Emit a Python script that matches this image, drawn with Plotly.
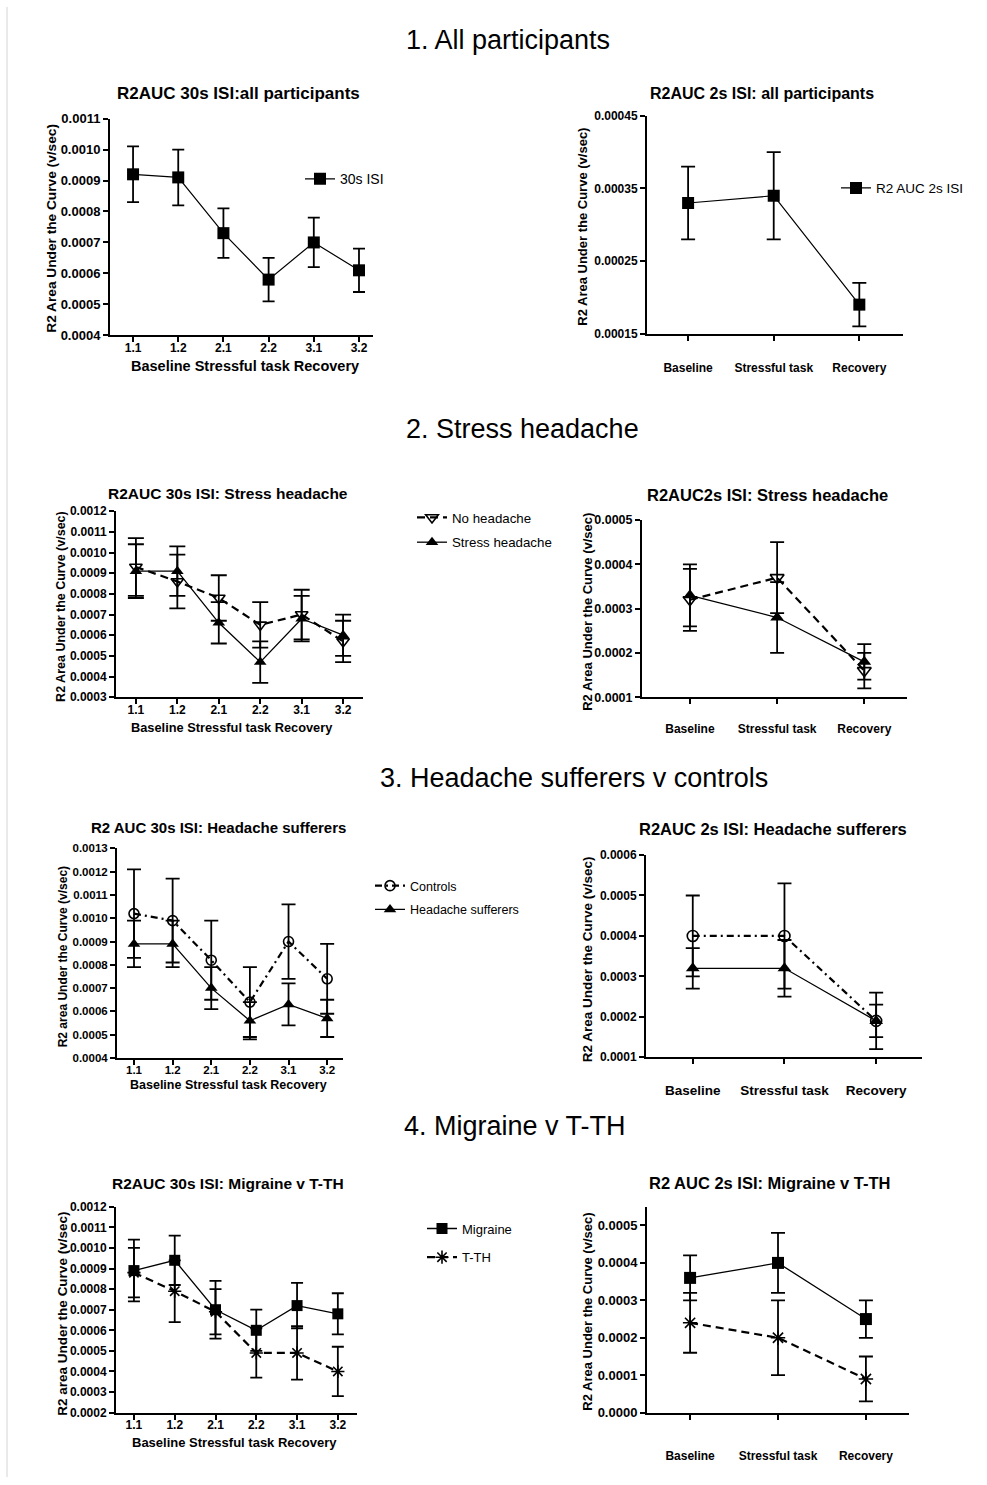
import plotly.graph_objects as go

W, H = 987, 1485
FONT = "Liberation Sans, Arial, sans-serif"

# ---- categories ----
periods = ["1.1", "1.2", "2.1", "2.2", "3.1", "3.2"]
phases = ["Baseline", "Stressful task", "Recovery"]

# ---- 1. All participants ----
all_30s = [0.00092, 0.00091, 0.00073, 0.00058, 0.00070, 0.00061]
all_30s_err = [0.00009, 0.00009, 0.00008, 0.00007, 0.00008, 0.00007]
all_2s = [0.00033, 0.00034, 0.00019]
all_2s_err = [0.00005, 0.00006, 0.00003]

# ---- 2. Stress headache ----
nohead_30s = [0.00093, 0.00086, 0.00078, 0.00065, 0.00070, 0.00057]
nohead_30s_err = [0.00014, 0.00013, 0.00011, 0.00011, 0.00012, 0.00010]
stress_30s = [0.00091, 0.00091, 0.00066, 0.00047, 0.00068, 0.00060]
stress_30s_err = [0.00013, 0.00012, 0.00010, 0.00010, 0.00011, 0.00010]
nohead_2s = [0.00032, 0.00037, 0.00016]
nohead_2s_err = [0.00007, 0.00008, 0.00004]
stress_2s = [0.00033, 0.00028, 0.00018]
stress_2s_err = [0.00007, 0.00008, 0.00004]

# ---- 3. Headache sufferers v controls ----
controls_30s = [0.00102, 0.00099, 0.00082, 0.00064, 0.00090, 0.00074]
controls_30s_err = [0.00019, 0.00018, 0.00017, 0.00015, 0.00016, 0.00015]
sufferers_30s = [0.00089, 0.00089, 0.00070, 0.00056, 0.00063, 0.00057]
sufferers_30s_err = [0.00010, 0.00010, 0.00009, 0.00008, 0.00009, 0.00008]
controls_2s = [0.00040, 0.00040, 0.00019]
controls_2s_err = [0.00010, 0.00013, 0.00007]
sufferers_2s = [0.00032, 0.00032, 0.00019]
sufferers_2s_err = [0.00005, 0.00007, 0.00004]

# ---- 4. Migraine v T-TH ----
migraine_30s = [0.00089, 0.00094, 0.00070, 0.00060, 0.00072, 0.00068]
migraine_30s_err = [0.00015, 0.00012, 0.00014, 0.00010, 0.00011, 0.00010]
tth_30s = [0.00088, 0.00079, 0.00069, 0.00049, 0.00049, 0.00040]
tth_30s_err = [0.00012, 0.00015, 0.00011, 0.00012, 0.00013, 0.00012]
migraine_2s = [0.00036, 0.00040, 0.00025]
migraine_2s_err = [0.00006, 0.00008, 0.00005]
tth_2s = [0.00024, 0.00020, 0.00009]
tth_2s_err = [0.00008, 0.00010, 0.00006]


def fx(p):
    return p / W


def fy(p):
    return 1 - p / H


# negative label standoff pulls the period labels closer to the axis
try:
    go.layout.XAxis(ticklabelstandoff=-5)
    CLOSE = -5
except ValueError:
    CLOSE = 0

# panel geometry in pixels: (left, right, top, bottom)
panels = [
    dict(box=(110, 373, 112.7, 331.7), xr=[-0.51, 5.31], yr=[0.0004, 0.0011], tick0=0.0004,
         fmt=".4f", cats=periods, lab_off=CLOSE, xfs=12, yfs=13),
    dict(box=(647, 903, 110, 330), xr=[-0.48, 2.51], yr=[0.00015, 0.00045], tick0=0.00015,
         fmt=".5f", cats=phases, lab_off=17, xfs=12, yfs=12),
    dict(box=(116, 363, 509.3, 697.3), xr=[-0.48, 5.48], yr=[0.0003, 0.0012], tick0=0.0003,
         fmt=".4f", cats=periods, lab_off=CLOSE, xfs=12, yfs=12),
    dict(box=(642, 907, 518.3, 697.3), xr=[-0.55, 2.49], yr=[0.0001, 0.0005], tick0=0.0001,
         fmt=".4f", cats=phases, lab_off=14, xfs=12, yfs=12.5),
    dict(box=(117, 343, 850, 1061.7), xr=[-0.44, 5.41], yr=[0.0004, 0.0013], tick0=0.0004,
         fmt=".4f", cats=periods, lab_off=CLOSE, xfs=11.5, yfs=11.5),
    dict(box=(646, 922, 856.7, 1061), xr=[-0.51, 2.5], yr=[0.0001, 0.0006], tick0=0.0001,
         fmt=".4f", cats=phases, lab_off=15, xfs=13.5, yfs=12),
    dict(box=(116, 357, 1212, 1420), xr=[-0.44, 5.47], yr=[0.0002, 0.0012], tick0=0.0002,
         fmt=".4f", cats=periods, lab_off=CLOSE, xfs=12, yfs=12),
    dict(box=(647, 909, 1212, 1420), xr=[-0.49, 2.49], yr=[0.0, 0.00055], tick0=0.0,
         fmt=".4f", cats=phases, lab_off=26, xfs=12, yfs=13),
]

axis_common = dict(
    showline=True, linecolor="black", linewidth=2,
    ticks="outside", ticklen=5, tickwidth=2, tickcolor="black",
    showgrid=False, zeroline=False, fixedrange=True,
)


def tfont(size):
    return dict(family=FONT, size=size, color="black", weight="bold")


layout_axes = {}
for i, p in enumerate(panels, start=1):
    l, r, t, b = p["box"]
    sfx = "" if i == 1 else str(i)
    xa = dict(axis_common, domain=[fx(l), fx(r)], anchor="y" + sfx, type="category",
              range=p["xr"], categoryorder="array", categoryarray=p["cats"],
              tickfont=tfont(p["xfs"]), ticklabelstandoff=p["lab_off"])
    ya = dict(axis_common, domain=[fy(b), fy(t)], anchor="x" + sfx, range=p["yr"],
              tickmode="linear", tick0=p["tick0"], dtick=0.0001, tickformat=p["fmt"],
              tickfont=tfont(p["yfs"]))
    layout_axes["xaxis" + sfx] = xa
    layout_axes["yaxis" + sfx] = ya


def add_series(panel, x, y, err, name, symbol, msize, dash, lwidth, cap, legend=None):
    sfx = "" if panel == 1 else str(panel)
    open_sym = symbol.endswith("-open")
    fig.add_trace(go.Scatter(
        x=x, y=y, name=name,
        mode="lines+markers",
        xaxis="x" + sfx, yaxis="y" + sfx,
        line=dict(color="black", width=lwidth, dash=dash),
        marker=dict(symbol=symbol, size=msize, color="black",
                    line=dict(color="black", width=1.6 if open_sym else 0)),
        error_y=dict(type="data", array=err, visible=True, color="black",
                     thickness=1.8, width=cap),
        showlegend=legend is not None,
        legend=legend if legend is not None else "legend",
        cliponaxis=False,
    ))


fig = go.Figure()

DASH = "8px,5px"
DASHDOT = "7px,4px,2px,4px"

add_series(1, periods, all_30s, all_30s_err, "30s ISI", "square", 12, "solid", 1.2, 6, "legend")
add_series(2, phases, all_2s, all_2s_err, "R2 AUC 2s ISI", "square", 12, "solid", 1.2, 7, "legend2")

add_series(3, periods, nohead_30s, nohead_30s_err, "No headache", "triangle-down-open", 11, DASH, 2.2, 8, "legend3")
add_series(3, periods, stress_30s, stress_30s_err, "Stress headache", "triangle-up", 11, "solid", 1.3, 8, "legend4")
add_series(4, phases, nohead_2s, nohead_2s_err, "No headache", "triangle-down-open", 12, DASH, 2.2, 7)
add_series(4, phases, stress_2s, stress_2s_err, "Stress headache", "triangle-up", 12, "solid", 1.3, 7)

add_series(5, periods, controls_30s, controls_30s_err, "Controls", "circle-open", 10, DASHDOT, 2.2, 7, "legend5")
add_series(5, periods, sufferers_30s, sufferers_30s_err, "Headache sufferers", "triangle-up", 11, "solid", 1.3, 7, "legend6")
add_series(6, phases, controls_2s, controls_2s_err, "Controls", "circle-open", 11, DASHDOT, 2.2, 7)
add_series(6, phases, sufferers_2s, sufferers_2s_err, "Headache sufferers", "triangle-up", 12, "solid", 1.3, 7)

add_series(7, periods, migraine_30s, migraine_30s_err, "Migraine", "square", 11, "solid", 1.3, 6, "legend7")
add_series(7, periods, tth_30s, tth_30s_err, "T-TH", "asterisk-open", 11, DASH, 2.2, 6, "legend8")
add_series(8, phases, migraine_2s, migraine_2s_err, "Migraine", "square", 12, "solid", 1.3, 7)
add_series(8, phases, tth_2s, tth_2s_err, "T-TH", "asterisk-open", 12, DASH, 2.2, 7)

# legend placement: (pixel x of legend box left, pixel y of item centre, font size)
legend_pos = {
    "legend": (300, 174, 14), "legend2": (836, 183, 13.5),
    "legend3": (412, 516, 13.3), "legend4": (412, 541, 13.3),
    "legend5": (370, 888, 12.5), "legend6": (370, 912, 12.5),
    "legend7": (422, 1234, 13), "legend8": (422, 1263, 13),
}
legends = {}
for k, (lx, ly, fs) in legend_pos.items():
    legends[k] = dict(x=fx(lx), y=fy(ly), xanchor="left", yanchor="middle",
                      xref="paper", yref="paper", bgcolor="rgba(0,0,0,0)",
                      borderwidth=0, itemwidth=30,
                      font=dict(family=FONT, size=fs, color="black"))

annotations = []


def text(x, y, s, size, bold=True, angle=0, xanchor="center"):
    annotations.append(dict(
        x=fx(x), y=fy(y), xref="paper", yref="paper", text=s, showarrow=False,
        xanchor=xanchor, yanchor="middle", textangle=angle,
        font=dict(family=FONT, size=size, color="black", weight="bold" if bold else "normal"),
    ))


# section headings
text(404, 33, "1. All participants", 27, bold=False, xanchor="left")
text(404, 426, "2. Stress headache", 27, bold=False, xanchor="left")
text(378, 779, "3. Headache sufferers v controls", 27, bold=False, xanchor="left")
text(402, 1130, "4. Migraine v T-TH", 27, bold=False, xanchor="left")

# panel titles
text(238, 87, "R2AUC 30s ISI:all participants", 17)
text(762, 87, "R2AUC 2s ISI: all participants", 16)
text(228, 491, "R2AUC 30s ISI: Stress headache", 15.5)
text(767, 493, "R2AUC2s ISI: Stress headache", 16.5)
text(218, 829, "R2 AUC 30s ISI: Headache sufferers", 15)
text(773, 830, "R2AUC 2s ISI: Headache sufferers", 16.5)
text(228, 1189, "R2AUC 30s ISI: Migraine v T-TH", 15.5)
text(769, 1188, "R2 AUC 2s ISI: Migraine v T-TH", 16.5)

# y-axis titles
text(52, 224, "R2 Area Under the Curve (v/sec)", 13.7, angle=-90)
text(583, 222, "R2 Area Under the Curve (v/sec)", 13, angle=-90)
text(61, 606, "R2 Area Under the Curve (v/sec)", 12.5, angle=-90)
text(588, 611, "R2 Area Under the Curve (v/sec)", 13, angle=-90)
text(63, 959, "R2 area Under the Curve (v/sec)", 12, angle=-90)
text(587, 962, "R2 Area Under the Curve (v/sec)", 13.5, angle=-90)
text(63, 1320, "R2 area Under the Curve (v/sec)", 13.5, angle=-90)
text(588, 1318, "R2 Area Under the Curve (v/sec)", 13, angle=-90)

# x-axis titles of the 30s panels
text(245, 363, "Baseline Stressful task Recovery", 14.5)
text(232, 728, "Baseline Stressful task Recovery", 12.8)
text(228, 1089, "Baseline Stressful task Recovery", 12.5)
text(234, 1450, "Baseline Stressful task Recovery", 13)

shapes = [
    dict(type="line", xref="paper", yref="paper", x0=fx(7), x1=fx(7), y0=0, y1=1,
         line=dict(color="#d4d4d4", width=1)),
]

fig.update_layout(
    width=W, height=H,
    margin=dict(l=0, r=0, t=0, b=0),
    paper_bgcolor="white", plot_bgcolor="white",
    font=dict(family=FONT, color="black"),
    annotations=annotations,
    shapes=shapes,
    **layout_axes,
    **legends,
)

fig.write_html("out.html")
